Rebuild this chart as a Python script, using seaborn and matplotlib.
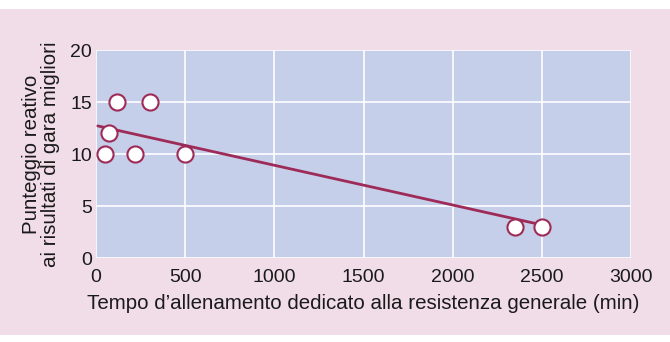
import seaborn as sns
import matplotlib.pyplot as plt
from matplotlib.patches import Rectangle

# data
tempo = [50, 75, 115, 220, 305, 500, 2350, 2500]
punteggio = [10, 12, 15, 10, 15, 10, 3, 3]
trend_x = [10, 2470]
trend_y = [12.7, 3.3]
xticks = [0, 500, 1000, 1500, 2000, 2500, 3000]
yticks = [0, 5, 10, 15, 20]

sns.set_style("whitegrid")
plt.rcParams['font.family'] = ['Liberation Sans', 'DejaVu Sans']

pink = "#f1dde7"
blue = "#c6cfea"
wine = "#9e2b57"

fig = plt.figure(figsize=(6.7, 3.42), dpi=100)
fig.patch.set_facecolor("white")
fig.add_artist(Rectangle((0, 0.02), 1, 0.955, transform=fig.transFigure,
                         facecolor=pink, edgecolor="none", zorder=-10))
ax = fig.add_axes([0.1433, 0.2456, 0.7985, 0.6082])
ax.set_facecolor(blue)

sns.lineplot(x=trend_x, y=trend_y, ax=ax, color=wine, linewidth=2, zorder=3)
sns.scatterplot(x=tempo, y=punteggio, ax=ax, s=135, color="white",
                edgecolor=wine, linewidth=1.5, zorder=4)

ax.set_xlim(0, 3000)
ax.set_ylim(0, 20)
ax.set_xticks(xticks)
ax.set_yticks(yticks)
ax.grid(True, color="white", linewidth=1.2)
for s in ax.spines.values():
    s.set_visible(False)
ax.tick_params(axis="both", length=0, labelsize=14, colors="#1a1a1a", pad=3)
ax.tick_params(axis="x", pad=8)
ax.set_xlabel("Tempo d\u2019allenamento dedicato alla resistenza generale (min)",
              fontsize=14.8, color="#1a1a1a", labelpad=6)
ax.set_ylabel("Punteggio reativo\nai risultati di gara migliori",
              fontsize=14.8, color="#1a1a1a", labelpad=7, linespacing=1.0)

plt.savefig("out.png", dpi=100, facecolor=fig.get_facecolor())
